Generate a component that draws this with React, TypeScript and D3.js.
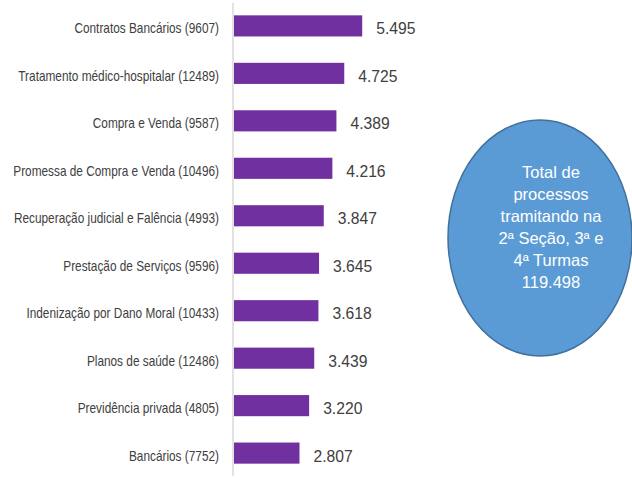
import React from "react";
import * as d3 from "d3";

// Processos por assunto (2ª Seção, 3ª e 4ª Turmas)
const categories = [
  "Contratos Bancários (9607)",
  "Tratamento médico-hospitalar (12489)",
  "Compra e Venda (9587)",
  "Promessa de Compra e Venda (10496)",
  "Recuperação judicial e Falência (4993)",
  "Prestação de Serviços (9596)",
  "Indenização por Dano Moral (10433)",
  "Planos de saúde (12486)",
  "Previdência privada (4805)",
  "Bancários (7752)",
];
const values = [5495, 4725, 4389, 4216, 3847, 3645, 3618, 3439, 3220, 2807];

const totalLines = [
  "Total de",
  "processos",
  "tramitando na",
  "2ª Seção, 3ª e",
  "4ª Turmas",
  "119.498",
];

const width = 632;
const height = 484;

const ptBR = d3.formatLocale({
  decimal: ",",
  thousands: ".",
  grouping: [3],
  currency: ["R$", ""],
});
const fmt = ptBR.format(",d");

const App = () => {
  const x = d3.scaleLinear().domain([0, 6000]).range([234, 374]);
  const y = d3
    .scaleBand<string>()
    .domain(categories)
    .range([3, 476])
    .paddingInner(0.555)
    .paddingOuter(0.26);

  const font = "'Liberation Sans', Arial, sans-serif";

  return (
    <svg
      width={width}
      height={height}
      style={{ position: "absolute", left: 0, top: 0, background: "#fff" }}
      fontFamily={font}
    >
      {/* axis line */}
      <line x1={233} x2={233} y1={3} y2={476} stroke="#d9d9d9" strokeWidth={1.5} />

      {categories.map((c, i) => {
        const yc = (y(c) as number) + y.bandwidth() / 2;
        return (
          <g key={c}>
            <rect
              x={x(0)}
              y={y(c)}
              width={x(values[i]) - x(0)}
              height={y.bandwidth()}
              fill="#7030A0"
            />
            <text
              transform={`translate(219,${yc + 7.5}) scale(0.845,1)`}
              textAnchor="end"
              fontSize={14}
              fill="#404040"
            >
              {c}
            </text>
            <text
              transform={`translate(${x(values[i]) + 14},${yc + 8.5}) scale(0.95,1.05)`}
              fontSize={16.5}
              fill="#404040"
            >
              {fmt(values[i])}
            </text>
          </g>
        );
      })}

      {/* total bubble */}
      <ellipse cx={540} cy={238} rx={92} ry={118} fill="#5B9BD5" stroke="#41719C" strokeWidth={1.5} />
      {totalLines.map((t, i) => (
        <text key={i} x={551} y={178.3 + i * 21.9} textAnchor="middle" fontSize={16.5} fill="#fff">
          {t}
        </text>
      ))}
    </svg>
  );
};

export default App;
